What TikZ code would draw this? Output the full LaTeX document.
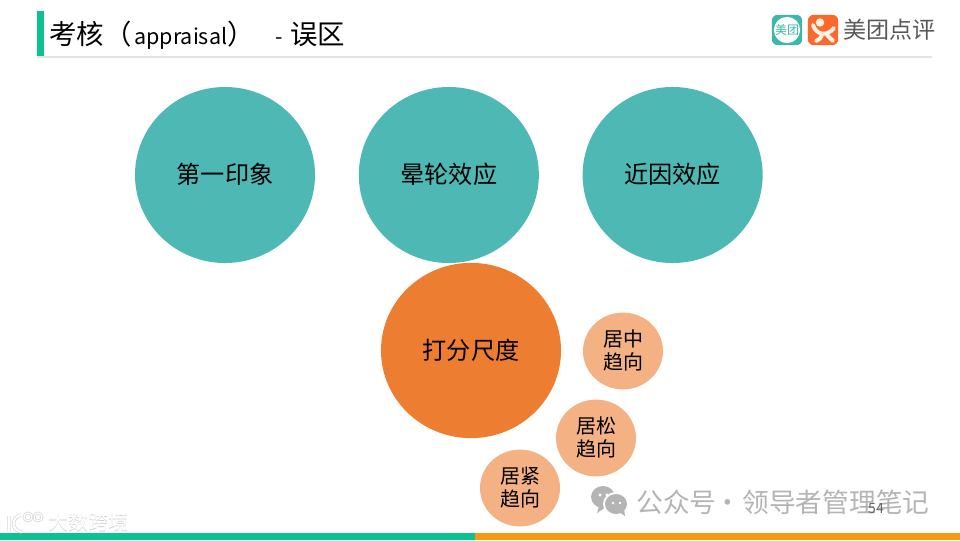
\documentclass[tikz,border=0pt]{standalone}
\usepackage{fontspec}
\setmainfont{Noto Sans CJK SC}
\usepackage{xcolor}
\usetikzlibrary{positioning,shapes.geometric}
\definecolor{tealc}{HTML}{4DB8B4}
\definecolor{orangec}{HTML}{ED7D31}
\definecolor{peachc}{HTML}{F4B183}
\definecolor{greenbar}{HTML}{0DC28F}
\definecolor{orangebar}{HTML}{F39A0E}
\definecolor{lineg}{HTML}{E4E4E4}
\definecolor{mtgreen}{HTML}{3CB8A8}
\definecolor{dporange}{HTML}{FB6A2C}
\definecolor{markg}{HTML}{B4B4B4}
\newcommand{\liftup}[1]{\raisebox{2.2pt}{#1}}

\begin{document}
\begin{tikzpicture}[
	x=0.025cm, y=-0.025cm,
	font=\fontsize{17.2pt}{20pt}\selectfont,
	bigc/.style={ellipse, fill=tealc, inner sep=0pt, minimum width=4.5cm, minimum height=4.4cm, align=center},
	midc/.style={ellipse, fill=orangec, inner sep=0pt, minimum width=4.5cm, minimum height=4.38cm, align=center},
	smallc/.style={ellipse, fill=peachc, inner sep=0pt, minimum width=2cm, minimum height=1.92cm, align=center, font=\fontsize{14.2pt}{16.4pt}\selectfont},
	logobox/.style={rounded corners=1.5mm, minimum size=0.76cm, inner sep=0pt},
	wmark/.style={text=markg, inner sep=0pt, font=\fontsize{19pt}{20pt}\selectfont},
	dpline/.style={white!90!orange, line width=2.8pt, line cap=round},
	lowhalo/.style={inner sep=0pt, anchor=west, text=black!18, font=\fontsize{14.2pt}{16pt}\selectfont},
	lowtext/.style={inner sep=0pt, anchor=west, text=white, font=\fontsize{14.2pt}{16pt}\selectfont},
]
\useasboundingbox (0,0) rectangle (960,540);
% header
\fill[greenbar] (37,11) rectangle (44,56);
\fill[lineg] (37,56) rectangle (932,58);
\node[inner sep=0pt, anchor=west, font=\fontsize{19.5pt}{22pt}\selectfont] (title) at (49,35) {考核（\hspace{2pt}{\fontsize{15.3pt}{22pt}\selectfont appraisal}）\hspace{9pt}{\fontsize{15.3pt}{22pt}\selectfont\hspace{6pt}-}\hspace{5pt}误区};
% logos
\node[logobox, fill=mtgreen] (mt) at (787,30) {};
\node[circle, fill=white, minimum size=0.65cm, inner sep=0pt, text=mtgreen, font=\fontsize{8.5pt}{9pt}\selectfont] (mtc) at (mt) {美团};
\node[logobox, fill=dporange] (dp) at (823,30) {};
\fill[white!90!orange] (820,22.5) circle (4.2);
\draw[dpline] (813,25) .. controls (816,35) and (827,37) .. (834,28);
\draw[dpline] (822,35) .. controls (821,38) and (819,40) .. (816,41);
\draw[dpline] (827,35) .. controls (829,37) and (831,39) .. (833,41);
\node[inner sep=0pt, anchor=west, text=black!65, font=\fontsize{16.4pt}{18pt}\selectfont] (logot) at (843,30) {美团点评};
% circles
\node[bigc] (first) at (225,175) {\liftup{第一印象}};
\node[bigc] (halo) [right=1.08cm of first] {\liftup{晕轮效应}};
\node[bigc] (recent) [right=1.08cm of halo] {\liftup{近因效应}};
\node[midc] (scale) at (471,350.5) {\liftup{打分尺度}};
\node[smallc] (mid) at (623,351) {\liftup{居中}\\\liftup{趋向}};
\node[smallc] (loose) at (596,438) {\liftup{居松}\\\liftup{趋向}};
\node[smallc] (tight) at (520,488) {\liftup{居紧}\\\liftup{趋向}};
% bottom bars
\fill[greenbar] (0,533) rectangle (475,540);
\fill[orangebar] (475,533) rectangle (960,540);
% watermarks
\fill[markg] (603,497) ellipse (12 and 11);
\fill[markg] (599,506) -- (597,513) -- (606,507) -- cycle;
\fill[white] (616,504) ellipse (13 and 12);
\fill[markg] (616,504) ellipse (11 and 10);
\fill[markg] (619,512) -- (625,516) -- (624,509) -- cycle;
\fill[white] (600,495) circle (1.6) (607,495) circle (1.6) (613,503) circle (1.4) (620,503) circle (1.4);
\node[wmark, anchor=west] (wx) at (636,502) {公众号\hspace{-5.5pt} · \hspace{-3.5pt}领导者管理笔记};
\node[inner sep=0pt, text=black!60, font=\fontsize{10pt}{12pt}\selectfont] (page) at (876,509) {54};
\node[lowhalo] (mk0) at (48.6,522.6) {大数跨境};
\node[lowtext] (mk) at (48,522) {大数跨境};
\draw[black!18, line width=2.4pt] (21,515) .. controls (11,517) and (11,531) .. (22,532) (9,516) -- (9,531);
\draw[black!18, line width=1.8pt] (28,517) circle (4) (38,517) circle (4);
\draw[white, line width=1.5pt] (21,515) .. controls (11,517) and (11,531) .. (22,532) (9,516) -- (9,531);
\draw[white, line width=0.9pt] (28,517) circle (4) (38,517) circle (4);
\end{tikzpicture}
\end{document}
